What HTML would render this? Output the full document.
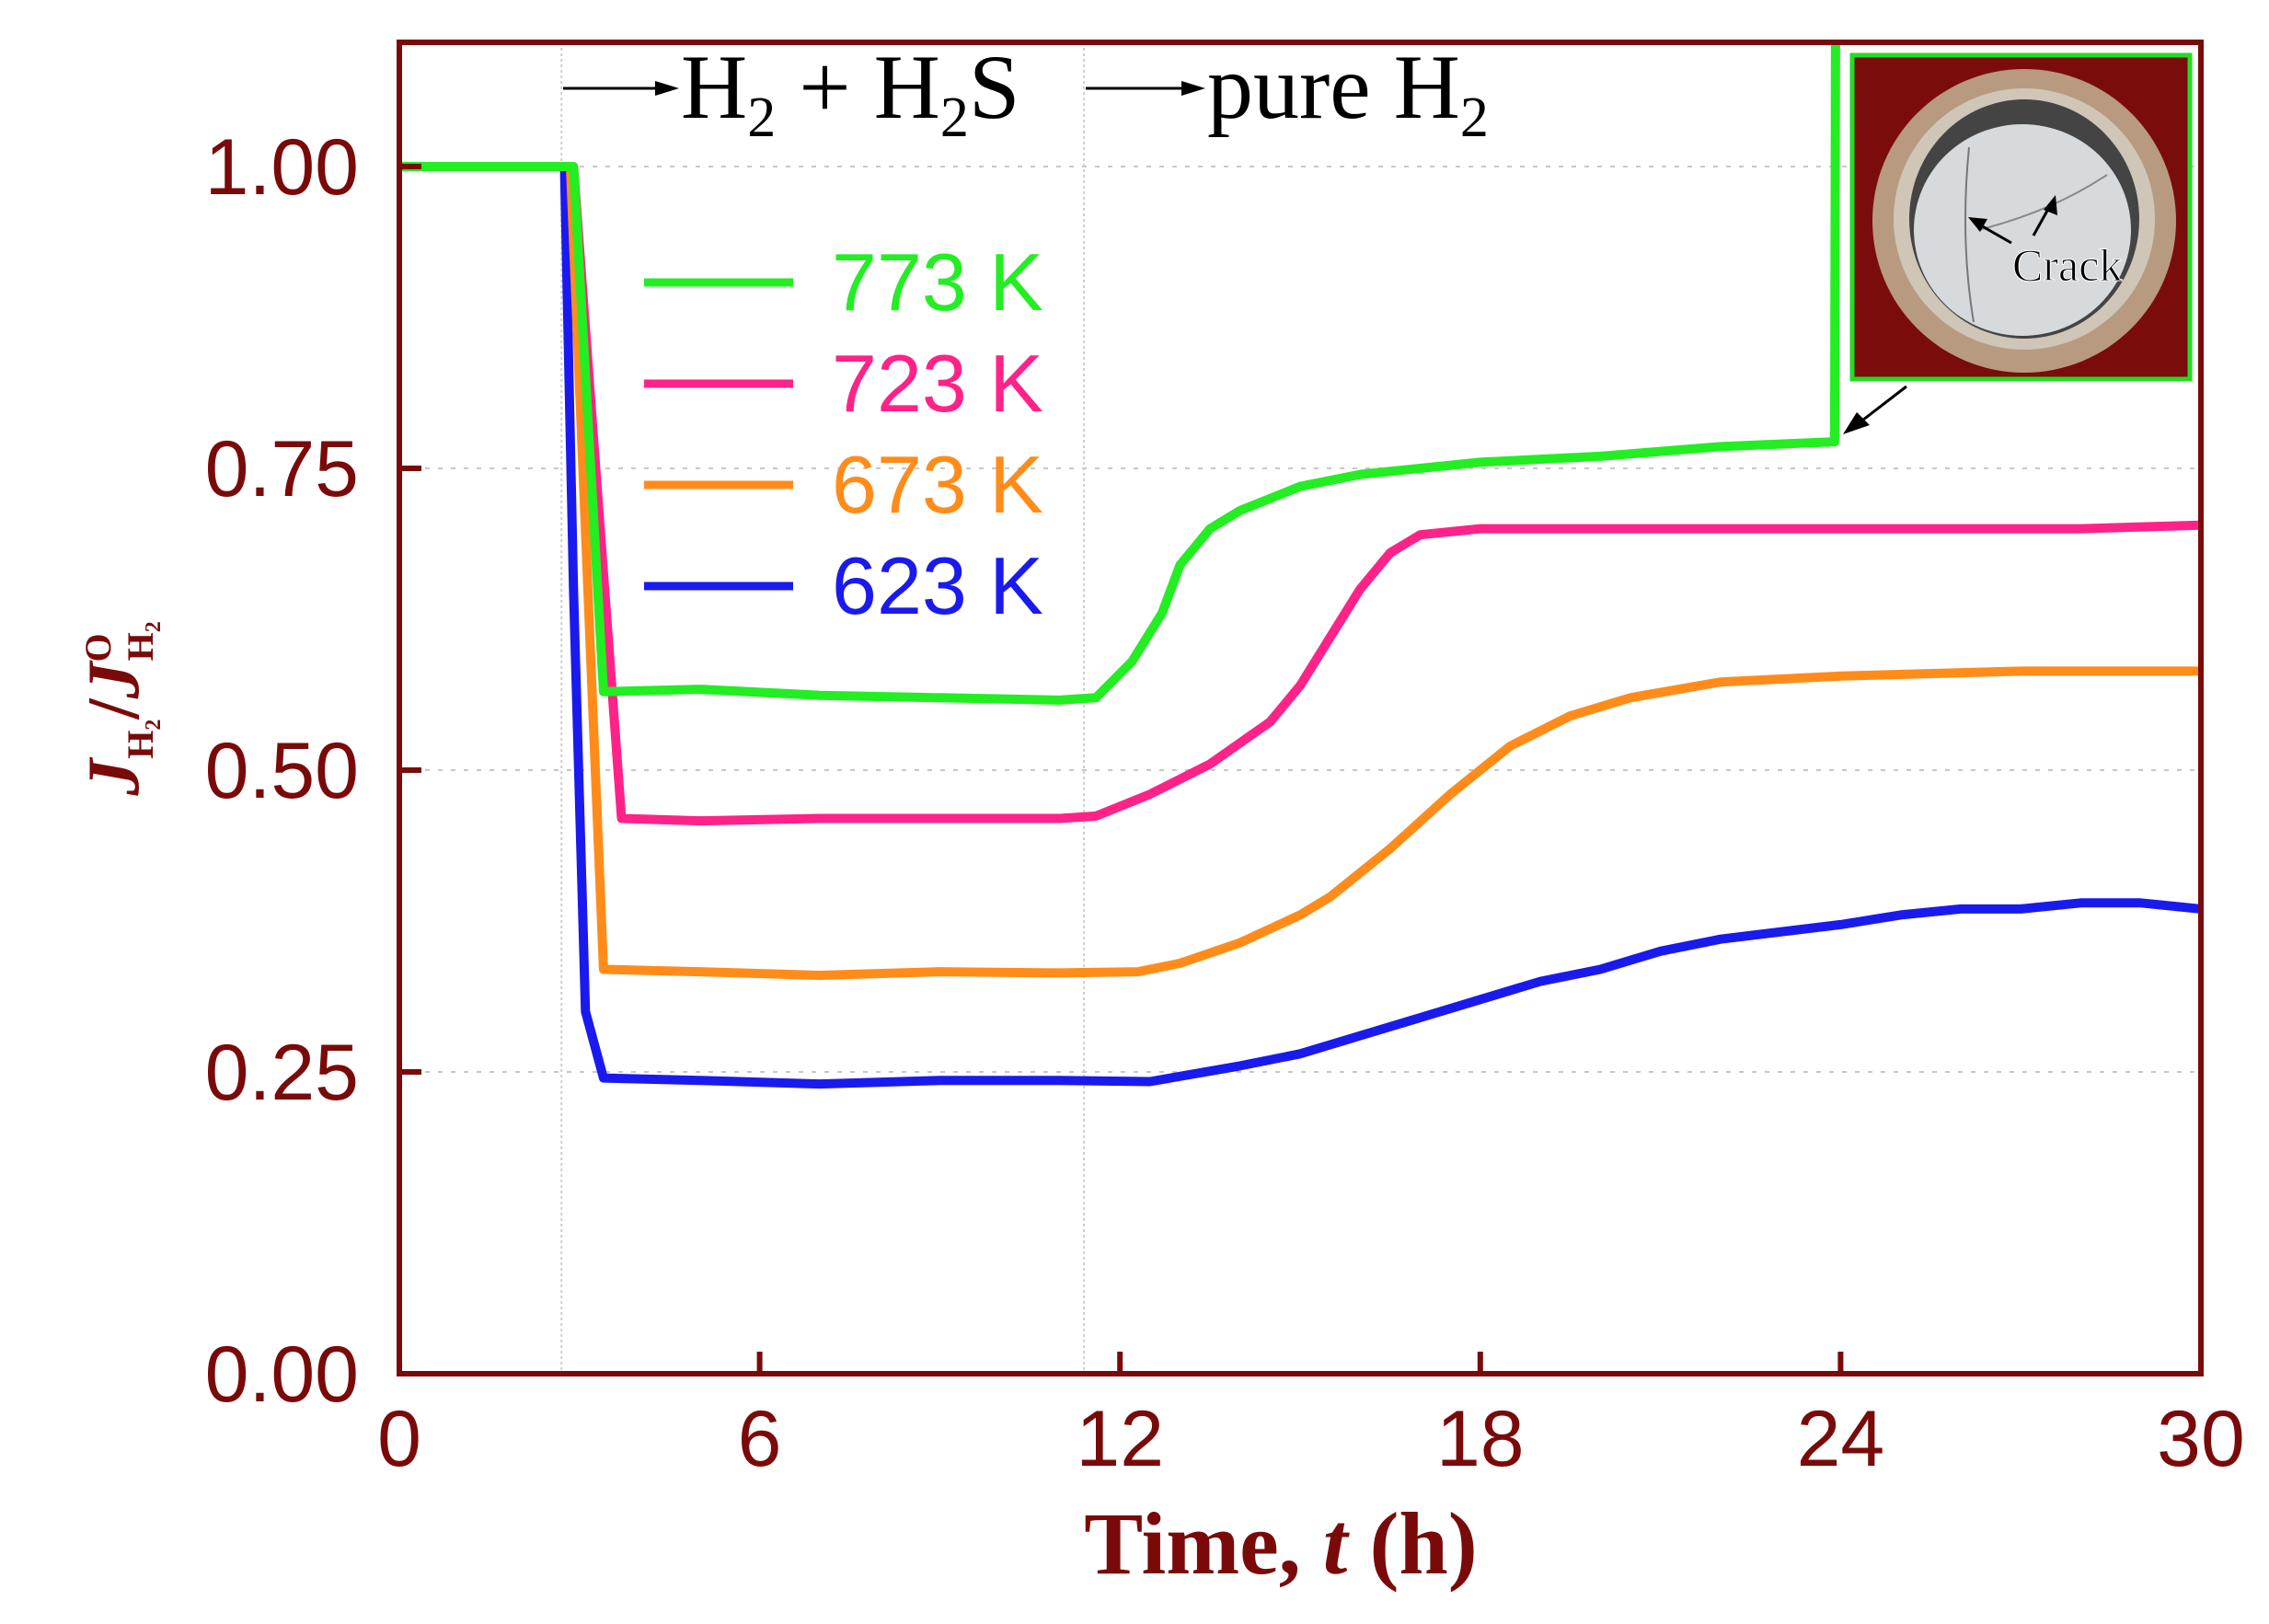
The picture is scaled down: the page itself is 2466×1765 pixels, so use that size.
<!DOCTYPE html>
<html><head><meta charset="utf-8"><style>
html,body{margin:0;padding:0;background:#fff;}
svg{display:block;}
</style></head><body>
<svg id="chart" width="2466" height="1765" viewBox="0 0 2466 1765" xmlns="http://www.w3.org/2000/svg">
<g id="grid"></g>
<g id="series"></g>
<g id="axes"></g>
<g id="annot">
  <line x1="612" y1="96" x2="720" y2="96" stroke="#000" stroke-width="3"/>
  <polygon points="738,96 712,88 712,104" fill="#000"/>
  <text x="740" y="128" font-family="Liberation Serif, serif" font-size="100" fill="#000">H<tspan font-size="62" dy="20">2</tspan><tspan dy="-20"> + H</tspan><tspan font-size="62" dy="20">2</tspan><tspan dy="-20">S</tspan></text>
  <line x1="1180" y1="96" x2="1290" y2="96" stroke="#000" stroke-width="3"/>
  <polygon points="1310,96 1284,88 1284,104" fill="#000"/>
  <text x="1312" y="128" font-family="Liberation Serif, serif" font-size="100" fill="#000">pure H<tspan font-size="62" dy="20">2</tspan></text>
  <g>
    <rect x="2013" y="60" width="367" height="352" fill="#7a0c0c" stroke="#22dd22" stroke-width="5"/>
    <circle cx="2200" cy="240" r="165" fill="#b89a80"/>
    <circle cx="2200" cy="238" r="142" fill="#cfc6b8"/>
    <ellipse cx="2200" cy="238" rx="125" ry="130" fill="#444"/>
    <ellipse cx="2198" cy="250" rx="118" ry="115" fill="#d6dadc"/>
    <path d="M2140 160 Q2130 260 2145 350" stroke="#777" stroke-width="2" fill="none"/>
    <path d="M2150 250 Q2230 230 2290 190" stroke="#888" stroke-width="2" fill="none"/>
    <line x1="2186" y1="264" x2="2144" y2="240" stroke="#000" stroke-width="3"/>
    <polygon points="2139,236 2160,238 2152,252" fill="#000"/>
    <line x1="2210" y1="256" x2="2230" y2="220" stroke="#000" stroke-width="3"/>
    <polygon points="2234,212 2236,234 2221,228" fill="#000"/>
    <text x="2187" y="305" font-family="Liberation Serif, serif" font-size="50" fill="#000" stroke="#fff" stroke-width="1">Crack</text>
  </g>
  <line x1="2072" y1="420" x2="2020" y2="460" stroke="#000" stroke-width="3"/>
  <polygon points="2003,472 2018,448 2032,462" fill="#000"/>
</g>
<g id="legend"></g>
<text x="1392" y="1710" text-anchor="middle" font-family="Liberation Serif, serif" font-weight="bold" font-size="96" fill="#7a0a0a">Time, <tspan font-style="italic">t</tspan> (h)</text>
<text transform="translate(150,770) rotate(-90)" text-anchor="middle" font-family="Liberation Serif, serif" font-weight="bold" font-size="80" fill="#7a0a0a"><tspan font-style="italic">J</tspan><tspan font-size="40" dy="16">H₂</tspan><tspan dy="-16">/</tspan><tspan font-style="italic">J</tspan><tspan font-size="40" dy="-30">O</tspan><tspan font-size="40" dx="-30" dy="46">H₂</tspan></text>
</svg>
<script>
const xTicks=[0,6,12,18,24,30];
const yTicks=[0.00,0.25,0.50,0.75,1.00];
const yTickLabels=["0.00","0.25","0.50","0.75","1.00"];
const seriesNames=["773 K","723 K","673 K","623 K"];
const seriesColors=["#22ee22","#ff2288","#ff8c1a","#1a1aee"];
const t773=[0,1,2,2.9,3.4,5,7,9,11,11.6,12.2,12.7,13,13.5,14,15,16,17,18,20,22,23.9,23.92,24];
const v773=[1,1,1,1,0.565,0.567,0.562,0.56,0.558,0.56,0.59,0.63,0.67,0.70,0.715,0.735,0.745,0.75,0.755,0.76,0.768,0.772,1.2,1.2];
const t723=[0,1,2,2.9,3.7,5,7,9,11,11.6,12.5,13.5,14.5,15,15.5,16,16.5,17,18,20,24,28,30];
const v723=[1,1,1,1,0.46,0.458,0.46,0.46,0.46,0.462,0.48,0.505,0.54,0.57,0.61,0.65,0.68,0.695,0.70,0.70,0.70,0.70,0.703];
const t673=[0,1,2,2.85,3.4,5,7,9,11,12.3,13,14,15,15.5,16.5,17.5,18.5,19.5,20.5,22,24,27,30];
const v673=[1,1,1,1,0.335,0.333,0.33,0.333,0.332,0.333,0.34,0.357,0.38,0.395,0.435,0.48,0.52,0.545,0.56,0.573,0.578,0.582,0.582];
const t623=[0,1,2,2.75,2.9,3.1,3.4,5,7,9,11,12.5,14,15,16,17,18,19,20,21,22,24,25,26,27,28,29,30];
const v623=[1,1,1,1,0.65,0.30,0.245,0.243,0.24,0.243,0.243,0.242,0.255,0.265,0.28,0.295,0.31,0.325,0.335,0.35,0.36,0.372,0.38,0.385,0.385,0.39,0.39,0.385];
const seriesT=[t773,t723,t673,t623];
const seriesV=[v773,v723,v673,v623];
const vLines=[2.7,11.4];

const X0=434,X1=2392,Y0=1493,Y1=181,YTOP=46;
const xs=t=>X0+(t-0)/(30-0)*(X1-X0);
const ys=v=>Y0-(v-0)/(1-0)*(Y0-Y1);
const NS="http://www.w3.org/2000/svg";
function mk(tag,parent,attrs){const e=document.createElementNS(NS,tag);for(const k in attrs)e.setAttribute(k,attrs[k]);parent.appendChild(e);return e;}
const grid=document.getElementById('grid'),axes=document.getElementById('axes'),ser=document.getElementById('series'),leg=document.getElementById('legend');

yTicks.forEach((v,i)=>{
  if(v>0){const g=mk('line',grid,{x1:X0,x2:X1,y1:ys(v),y2:ys(v),stroke:'#c8c8c8','stroke-width':2,'stroke-dasharray':'5 9'});
  
  }
  const tk=mk('line',axes,{x1:X0,x2:X0+24,y1:ys(v),y2:ys(v),stroke:'#7a0a0a','stroke-width':6});
  
  
  const lb=mk('text',axes,{x:X0-44,y:ys(v)+30,'text-anchor':'end','font-family':'Liberation Sans, sans-serif','font-size':86,fill:'#7a0a0a'});
  lb.textContent=yTickLabels[i];
  
  
});
vLines.forEach(t=>{
  const l=mk('line',grid,{x1:xs(t),x2:xs(t),y1:YTOP,y2:Y0,stroke:'#d0d0d0','stroke-width':2,'stroke-dasharray':'3 3'});
  
  
});
xTicks.forEach(t=>{
  const tk=mk('line',axes,{x1:xs(t),x2:xs(t),y1:Y0,y2:Y0-24,stroke:'#7a0a0a','stroke-width':6});
  
  
  const lb=mk('text',axes,{x:xs(t),y:Y0+100,'text-anchor':'middle','font-family':'Liberation Sans, sans-serif','font-size':86,fill:'#7a0a0a'});
  lb.textContent=String(t);
  
  
});
const frame=mk('rect',axes,{x:X0,y:YTOP,width:X1-X0,height:Y0-YTOP,fill:'none',stroke:'#7a0a0a','stroke-width':6});



const clip=mk('clipPath',ser,{id:'pc'});mk('rect',clip,{x:X0,y:YTOP,width:X1-X0,height:Y0-YTOP});
for(let s=seriesT.length-1;s>=0;s--){
  const d=seriesT[s].map((t,i)=>(i?'L':'M')+xs(t).toFixed(1)+' '+ys(seriesV[s][i]).toFixed(1)).join(' ');
  const p=mk('path',ser,{d:d,fill:'none',stroke:seriesColors[s],'stroke-width':10,'stroke-linejoin':'round','clip-path':'url(#pc)'});
  
  
}
seriesNames.forEach((n,i)=>{
  const y=307+i*110;
  const l=mk('line',leg,{x1:700,x2:862,y1:y,y2:y,stroke:seriesColors[i],'stroke-width':9});
  
  
  const tx=mk('text',leg,{x:904,y:y+30,'font-family':'Liberation Sans, sans-serif','font-size':88,fill:seriesColors[i]});
  tx.textContent=n;
  
  
});
</script>
</body></html>
